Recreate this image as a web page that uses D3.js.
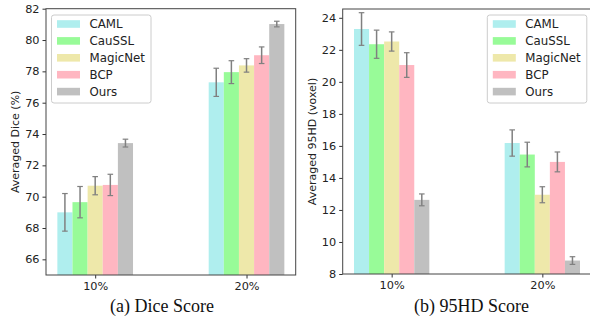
<!DOCTYPE html>
<html lang="en">
<head>
<meta charset="UTF-8">
<title>Dice / 95HD</title>
<script src="https://d3js.org/d3.v7.min.js"></script>
<style>
  body { margin: 0; background: #fff; }
  svg { display: block; }
  text { font-family: "DejaVu Sans", sans-serif; }
</style>
</head>
<body>
<div id="chart"></div>
<script>
    var width = 590, height = 322;

    var methods = ["CAML", "CauSSL", "MagicNet", "BCP", "Ours"];
    var colors = ["#afeeee", "#98fb98", "#eee8aa", "#ffb6c1", "#c0c0c0"];
    var groups = ["10%", "20%"];

    // values per method: [10%, 20%]
    var diceMean = [[69.0, 77.3], [69.65, 77.95], [70.7, 78.38], [70.75, 79.03], [73.42, 81.02]];
    var diceErr  = [[1.2, 0.9], [1.0, 0.73], [0.58, 0.43], [0.68, 0.53], [0.25, 0.18]];
    var hdMean   = [[23.3, 16.18], [22.35, 15.46], [22.52, 12.95], [21.05, 15.0], [12.63, 8.84]];
    var hdErr    = [[1.02, 0.82], [0.88, 0.77], [0.6, 0.5], [0.77, 0.62], [0.37, 0.24]];

    var diceTicks = [66, 68, 70, 72, 74, 76, 78, 80, 82];
    var hdTicks = [8, 10, 12, 14, 16, 18, 20, 22, 24];

    var svg = d3.select("#chart").append("svg")
        .attr("width", width)
        .attr("height", height);

    var panels = [
        { x0: 46, x1: 295.7, y0: 8.7, y1: 275, dom: [65, 82], mean: diceMean, err: diceErr, ticks: diceTicks,
          ylabel: "Averaged Dice (%)", caption: "(a) Dice Score", capX: 162, legX: 51.5, labX: 18.5 },
        { x0: 342.7, x1: 591.3, y0: 9, y1: 274, dom: [8, 24.55], mean: hdMean, err: hdErr, ticks: hdTicks,
          ylabel: "Averaged 95HD (voxel)", caption: "(b) 95HD Score", capX: 471.5, legX: 487.3, labX: 315.5 }
    ];

    var barW = 0.1;

    panels.forEach(function(p) {
        var x = d3.scaleLinear().domain([-0.325, 1.325]).range([p.x0, p.x1]);
        var y = d3.scaleLinear().domain(p.dom).range([p.y1, p.y0]);
        var g = svg.append("g");

        // bars
        methods.forEach(function(m, i) {
            var off = (i - 2) * barW;
            g.selectAll(null)
                .data(groups.map(function(gr, j) { return { j: j, v: p.mean[i][j] }; }))
                .enter().append("rect")
                .attr("x", function(d) { return x(d.j + off - barW / 2); })
                .attr("width", x(barW) - x(0))
                .attr("y", function(d) { return y(d.v); })
                .attr("height", function(d) { return p.y1 - y(d.v); })
                .attr("fill", colors[i]);
        });

        // error bars
        methods.forEach(function(m, i) {
            var off = (i - 2) * barW;
            groups.forEach(function(gr, j) {
                var cx = x(j + off), lo = y(p.mean[i][j] - p.err[i][j]), hi = y(p.mean[i][j] + p.err[i][j]);
                g.append("line").attr("x1", cx).attr("x2", cx).attr("y1", lo).attr("y2", hi)
                    .attr("stroke", "#808080").attr("stroke-width", 1.5);
                [lo, hi].forEach(function(yy) {
                    g.append("line").attr("x1", cx - 2.8).attr("x2", cx + 2.8).attr("y1", yy).attr("y2", yy)
                        .attr("stroke", "#808080").attr("stroke-width", 1.2);
                });
            });
        });

        // axes
        var yAxis = d3.axisLeft(y).tickValues(p.ticks).tickSize(3.5).tickPadding(3).tickFormat(d3.format("d"));
        var ya = g.append("g").attr("transform", "translate(" + p.x0 + ",0)").call(yAxis);
        var xAxis = d3.axisBottom(x).tickValues([0, 1]).tickSize(3.5).tickPadding(3)
            .tickFormat(function(d) { return groups[d]; });
        var xa = g.append("g").attr("transform", "translate(0," + p.y1 + ")").call(xAxis);
        [ya, xa].forEach(function(a) {
            a.select(".domain").remove();
            a.selectAll("line").attr("stroke", "#333");
            a.selectAll("text").attr("fill", "#222").style("font-size", "11.3px").style("font-family", "DejaVu Sans");
        });

        // frame
        g.append("rect").attr("x", p.x0).attr("y", p.y0).attr("width", p.x1 - p.x0).attr("height", p.y1 - p.y0)
            .attr("fill", "none").attr("stroke", "#444").attr("stroke-width", 1);

        // y label
        g.append("text")
            .attr("transform", "translate(" + p.labX + "," + ((p.y0 + p.y1) / 2) + ") rotate(-90)")
            .attr("text-anchor", "middle")
            .style("font-size", "11px").attr("fill", "#222")
            .text(p.ylabel);

        // caption
        g.append("text")
            .attr("x", p.capX)
            .attr("y", 312)
            .attr("text-anchor", "middle")
            .style("font-family", "Liberation Serif, serif")
            .style("font-size", "18px").attr("fill", "#111")
            .text(p.caption);

        // legend
        var lg = g.append("g").attr("transform", "translate(" + p.legX + ",15)");
        lg.append("rect").attr("width", 99.5).attr("height", 88).attr("rx", 2.5)
            .attr("fill", "#fff").attr("fill-opacity", 0.8).attr("stroke", "#ccc").attr("stroke-width", 1);
        methods.forEach(function(m, i) {
            var cy = 9 + i * 16.9;
            lg.append("rect").attr("x", 5.5).attr("y", cy - 3.8).attr("width", 23).attr("height", 7.6).attr("fill", colors[i]);
            lg.append("text").attr("x", 38).attr("y", cy + 4.2)
                .style("font-size", "11.8px").attr("fill", "#222").text(m);
        });
    });
</script>
</body>
</html>
